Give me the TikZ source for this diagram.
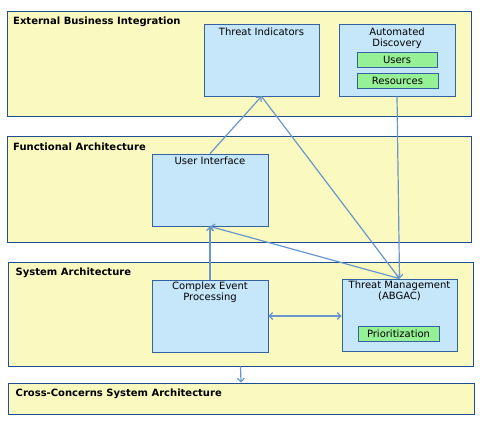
\documentclass[tikz,border=0pt]{standalone}
\usepackage{fontspec}
\setmainfont{DejaVu Sans}
\usetikzlibrary{arrows.meta,positioning}
\definecolor{LayerFill}{RGB}{250,250,192}
\definecolor{LayerLine}{RGB}{31,78,145}
\definecolor{BoxFill}{RGB}{198,230,250}
\definecolor{BoxLine}{RGB}{52,98,160}
\definecolor{TagFill}{RGB}{150,240,150}
\definecolor{ArrowMid}{RGB}{104,150,205}

\begin{document}
\begin{tikzpicture}[x=1pt,y=-1pt,
    layer/.style={draw=LayerLine,fill=LayerFill,line width=0.8pt},
    ttl/.style={anchor=base west,inner sep=0pt,font=\bfseries\fontsize{10}{11}\selectfont},
    box/.style={draw=BoxLine,fill=BoxFill,line width=0.8pt,minimum width=116pt,minimum height=72pt},
    tag/.style={draw=BoxLine,fill=TagFill,line width=0.8pt,minimum width=81pt,minimum height=15pt,
                inner sep=0pt,font=\fontsize{10}{11}\selectfont},
    txt/.style={inner sep=0pt,align=center,font=\fontsize{10}{11}\selectfont},
    arr/.style={draw=ArrowMid,line width=1.2pt,-{Straight Barb[length=3.5pt,width=7pt]}},
    dbl/.style={arr,{Straight Barb[length=3.5pt,width=7pt]}-{Straight Barb[length=3.5pt,width=7pt]}}
  ]
  \useasboundingbox (0,0) rectangle (489,423);
  % layers
  \node[layer,minimum width=464pt,minimum height=105pt] (ext) at (239,63.5) {};
  \node[layer,minimum width=464pt,minimum height=106pt] (func) at (239,189) {};
  \node[layer,minimum width=465pt,minimum height=104pt] (sys) at (240.5,314) {};
  \node[layer,minimum width=466pt,minimum height=31pt] (cross) at (241,398.5) {};
  \node[ttl] (extT) at (13,24) {External Business Integration};
  \node[ttl] (funcT) at (13,150) {Functional Architecture};
  \node[ttl] (sysT) at (15.5,275) {System Architecture};
  \node[ttl] (crossT) at (15.5,396.5) {Cross-Concerns System Architecture};
  % components
  \node[box,minimum width=115pt] (ti) at (261.5,60) {};
  \node[txt,below=4.5pt of ti.north] (tiT) {Threat Indicators};
  \node[box] (ad) at (397,60) {};
  \node[txt,below=4.5pt of ad.north] (adT) {Automated\\Discovery};
  \node[tag,minimum width=80pt] (users) at (397,59.5) {Users};
  \node[tag] (res) at (397.5,80.5) {Resources};
  \node[box] (ui) at (210,190) {};
  \node[txt,below=3.5pt of ui.north] (uiT) {User Interface};
  \node[box] (cep) at (210,316) {};
  \node[txt,below=2.5pt of cep.north] (cepT) {Complex Event\\Processing};
  \node[box,minimum width=115pt] (tm) at (399.5,315) {};
  \node[txt,below=2.5pt of tm.north] (tmT) {Threat Management\\(ABGAC)};
  \node[tag] (prio) at (398.5,333.5) {Prioritization};
  % connectors
  \draw[arr] (ui.north) -- (ti.south);
  \draw[arr] (ti.south) -- (tm.north);
  \draw[arr] (ad.south) -- (tm.north);
  \draw[arr] (tm.north) -- (ui.south);
  \draw[arr] (cep.north) -- (ui.south);
  \draw[dbl] (cep.east) -- (cep.east -| tm.west);
  \draw[arr] (sys.south) -- (cross.north);
\end{tikzpicture}
\end{document}
